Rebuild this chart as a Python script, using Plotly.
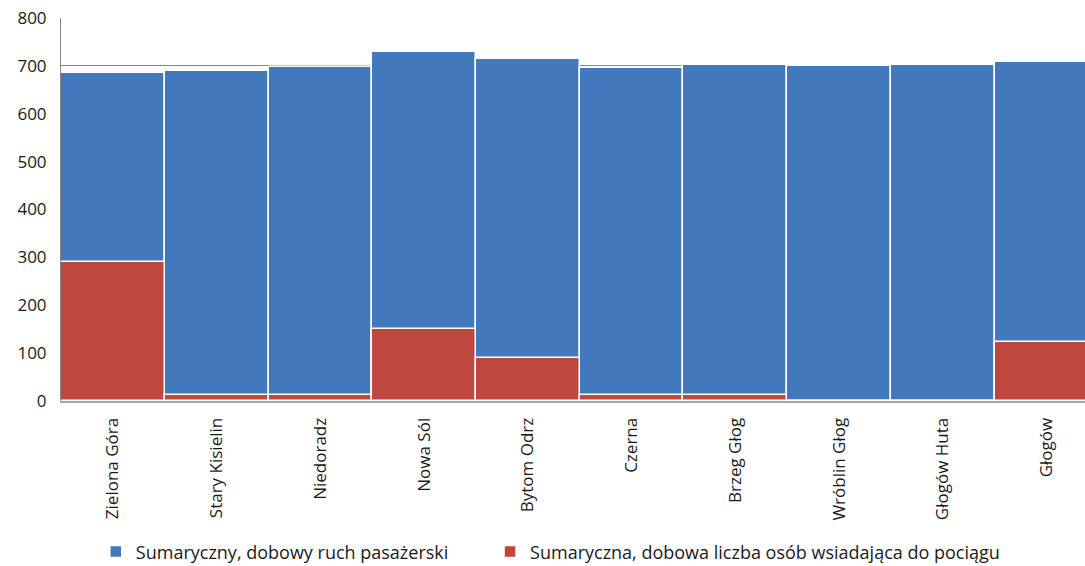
import plotly.graph_objects as go

stations = ["Zielona Góra", "Stary Kisielin", "Niedoradz", "Nowa Sól", "Bytom Odrz",
            "Czerna", "Brzeg Głog", "Wróblin Głog", "Głogów Huta", "Głogów"]
total_traffic = [685, 689, 697, 729, 714, 695, 701, 699, 701, 708]
boarding = [290, 12, 12, 150, 90, 12, 12, 0, 0, 123]

blue = "#4279bc"
red = "#c0473f"

fig = go.Figure()
fig.add_trace(go.Bar(
    x=stations, y=total_traffic, name="Sumaryczny, dobowy ruch pasażerski",
    marker=dict(color=blue, line=dict(color="white", width=1.5)), width=1.0,
    legend="legend",
))
fig.add_trace(go.Bar(
    x=stations, y=boarding, name="Sumaryczna, dobowa liczba osób wsiadająca do pociągu",
    marker=dict(color=red, line=dict(color="white", width=1.5)), width=1.0,
    legend="legend2",
))

leg_common = dict(
    orientation="h", xanchor="left", y=-0.394, yanchor="middle",
    font=dict(size=18, family="Open Sans, sans-serif", color="#1a1a1a"),
    itemwidth=30, bgcolor="rgba(0,0,0,0)",
)

fig.update_layout(
    width=1085, height=566,
    barmode="overlay", bargap=0,
    margin=dict(l=61, r=0, t=18, b=165, autoexpand=False),
    plot_bgcolor="white", paper_bgcolor="white",
    font=dict(family="Open Sans, DejaVu Sans, sans-serif", color="#1a1a1a"),
    legend=dict(x=0.034, **leg_common),
    legend2=dict(x=0.419, **leg_common),
    showlegend=True,
)
fig.update_xaxes(
    range=[-0.5, 9.37], tickangle=-90, showgrid=False, automargin=False,
    tickfont=dict(size=17, family="Open Sans, sans-serif", color="#1a1a1a"),
    showline=True, linecolor="#a6a6a6", linewidth=2, ticks="", ticklabelstandoff=8,
)
fig.update_yaxes(
    range=[0, 800], dtick=100, showgrid=True, gridcolor="#868686", gridwidth=1,
    automargin=False, ticklabeloverflow="allow",
    tickfont=dict(size=17, family="Liberation Sans Narrow, Open Sans, sans-serif", color="#1a1a1a"),
    showline=True, linecolor="#868686", linewidth=1, zeroline=False, ticks="",
    ticklabelstandoff=10,
)

fig.write_html(
    "out.html",
    config={"displayModeBar": False},
    post_script="document.body.style.margin='0';document.body.style.overflow='hidden';",
)
